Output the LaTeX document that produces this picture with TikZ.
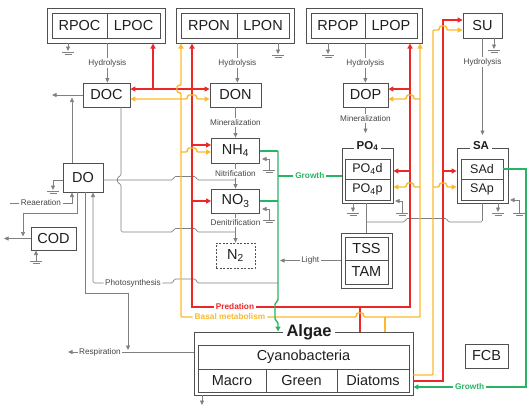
\documentclass[tikz,border=0pt]{standalone}
\usepackage{fontspec}
\setmainfont{Liberation Sans}
\usetikzlibrary{arrows.meta,calc}
\definecolor{cred}{RGB}{234,40,40}
\definecolor{cyel}{RGB}{250,186,45}
\definecolor{cgrn}{RGB}{40,180,100}
\definecolor{cgry}{RGB}{128,128,128}
\definecolor{cbox}{RGB}{80,80,80}
\definecolor{ctxt}{RGB}{30,30,30}
\definecolor{clbl}{RGB}{70,70,70}
\tikzset{
  box/.style={draw=cbox, line width=0.8pt, inner sep=0pt, text=ctxt, font=\fontsize{14.5}{17}\selectfont},
  sbox/.style={box, font=\fontsize{12.5}{15}\selectfont},
  ttl/.style={fill=white, inner xsep=3pt, inner ysep=1pt, text=ctxt, font=\bfseries\fontsize{11.5}{13}\selectfont},
  lbl/.style={fill=white, inner sep=1.5pt, text=clbl, font=\fontsize{8.2}{10}\selectfont},
  blbl/.style={fill=white, inner sep=2pt, font=\bfseries\fontsize{8.3}{10}\selectfont},
  gl/.style={draw=cgry, line width=0.65pt},
  rl/.style={draw=cred, line width=1.4pt},
  yl/.style={draw=cyel, line width=1.4pt},
  gr/.style={draw=cgrn, line width=1.4pt},
  arr/.style={-{Triangle[length=4.5pt,width=4pt]}},
  carr/.style={-{Triangle[length=5pt,width=5pt]}},
  carrs/.style={{Triangle[length=5pt,width=5pt]}-{Triangle[length=5pt,width=5pt]}},
  carrb/.style={{Triangle[length=5pt,width=5pt]}-},
  plate/.pic={\draw[gl] (-6,0) -- (6,0); \draw[gl,line width=0.4pt] (-3.5,2) -- (3.5,2);},
}
\begin{document}
\begin{tikzpicture}[x=1pt,y=-1pt]
\useasboundingbox (0,0) rectangle (530,408);
% ---- boxes
\node[box, minimum width=118pt, minimum height=35pt] (poc) at (106,25.5) {};
\node[box, minimum width=55pt, minimum height=25pt] (rpoc) at (79.5,25.5) {RPOC};
\node[box, minimum width=53pt, minimum height=25pt] (lpoc) at (133.5,25.5) {LPOC};
\node[box, minimum width=118pt, minimum height=35pt] (pon) at (235,25.5) {};
\node[box, minimum width=56pt, minimum height=25pt] (rpon) at (209,25.5) {RPON};
\node[box, minimum width=52pt, minimum height=25pt] (lpon) at (263,25.5) {LPON};
\node[box, minimum width=116pt, minimum height=35pt] (pop) at (364,25.5) {};
\node[box, minimum width=54pt, minimum height=25pt] (rpop) at (338,25.5) {RPOP};
\node[box, minimum width=52pt, minimum height=25pt] (lpop) at (391,25.5) {LPOP};
\node[box, minimum width=39pt, minimum height=25pt] (su) at (482.5,25.5) {SU};
\node[box, minimum width=47pt, minimum height=24pt] (doc) at (106.5,95) {DOC};
\node[box, minimum width=51pt, minimum height=24pt] (don) at (235.5,95) {DON};
\node[box, minimum width=45pt, minimum height=24pt] (dop) at (365.5,95) {DOP};
\node[box, minimum width=48pt, minimum height=25pt] (nh4) at (235.5,150.5) {NH\textsubscript{4}};
\node[box, minimum width=48pt, minimum height=24pt] (no3) at (235.5,201) {NO\textsubscript{3}};
\node[box, dash pattern=on 2pt off 1.5pt, minimum width=39pt, minimum height=25pt] (n2) at (235.5,255.5) {N\textsubscript{2}};
\node[box, minimum width=51pt, minimum height=55pt] (po4) at (367.5,175.5) {};
\node[sbox, minimum width=45pt, minimum height=20pt] (po4d) at (367.5,169) {PO\textsubscript{4}d};
\node[sbox, minimum width=45pt, minimum height=21pt] (po4p) at (367.5,189.5) {PO\textsubscript{4}p};
\node[box, minimum width=51pt, minimum height=55pt] (sa) at (482.5,175.5) {};
\node[sbox, minimum width=42pt, minimum height=20pt] (sad) at (482,169) {SAd};
\node[sbox, minimum width=42pt, minimum height=21pt] (sap) at (482,189.5) {SAp};
\node[box, minimum width=51pt, minimum height=55pt] (tt) at (366.5,260.5) {};
\node[box, minimum width=43pt, minimum height=23pt] (tss) at (366.5,248.5) {TSS};
\node[box, minimum width=43pt, minimum height=24pt] (tam) at (366.5,272) {TAM};
\node[box, minimum width=40pt, minimum height=29pt] (do) at (83,177.5) {DO};
\node[box, minimum width=45pt, minimum height=23pt] (cod) at (53.5,238.5) {COD};
\node[box, minimum width=43pt, minimum height=24pt] (fcb) at (486.5,356) {FCB};
\node[box, minimum width=219pt, minimum height=63pt] (alg) at (303.5,363.5) {};
\node[box, minimum width=211pt, minimum height=24pt] (cyan) at (303.5,357) {Cyanobacteria};
\node[box, minimum width=68pt, minimum height=23pt] (mac) at (232,380.5) {Macro};
\node[box, minimum width=71pt, minimum height=23pt] (grn) at (301.5,380.5) {Green};
\node[box, minimum width=72pt, minimum height=23pt] (dia) at (373,380.5) {Diatoms};

% ---- gray process lines
\draw[gl,arr] (rpoc.east |- poc.south) -- node[lbl]{Hydrolysis} (rpoc.east |- doc.north);
\draw[gl,arr] (rpon.east |- pon.south) -- node[lbl]{Hydrolysis} (rpon.east |- don.north);
\draw[gl,arr] (rpop.east |- pop.south) -- node[lbl]{Hydrolysis} (rpop.east |- dop.north);
\draw[gl,arr] (su.south) -- node[lbl,pos=0.245]{Hydrolysis} (su.south |- 0,135);
\draw[gl,arr] (don.south) -- node[lbl]{Mineralization} (nh4.north);
\draw[gl,arr] (dop.south) -- node[lbl,pos=0.42]{Mineralization} (dop.south |- 0,133);
\draw[gl,arr] (nh4.south) -- node[lbl,pos=0.4]{Nitrification} (no3.north);
\draw[gl,arr] (no3.south) -- node[lbl,pos=0.3]{Denitrification} (n2.north);

\draw[gl,rounded corners=1.5pt] (do.east |- 0,180) -- (173,180) -- (174,176.5) -- (196,176.5) -- (197,180) -- (235.5,180);
\draw[gl,rounded corners=1.5pt] (121,107) -- (121,176) -- (117.5,177) -- (117.5,183) -- (121,184) -- (121,232) -- (173,232) -- (174,228.5) -- (196,228.5) -- (197,232) -- (235.5,232);

\draw[gl,arr] (72,163) -- (72,97.5);
\draw[gl,arr] (doc.west) -- (52,95);
\draw[gl,arr] (do.west |- 0,180) -- (53,180) -- (53,190);
\pic at (53,191) {plate};
\draw[gl,arr] (10,203) -- node[lbl]{Reaeration} (72,203) -- (72,192.5);
\draw[gl,arr] (77,192) -- (77,213) -- (23,213) -- (23,236.5);
\draw[gl,arr] (cod.west) -- (4,238.5);
\draw[gl,arr] (36,261) -- (36,250.5);
\pic at (36,261) {plate};
\draw[gl,arr] (85,192) -- (85,293) -- (128,293) -- (128,350);
\draw[gl,arr] (alg.west |- 0,352) -- node[lbl,pos=0.746]{Respiration} (68,352);
\draw[gl,arr,rounded corners=1.5pt] (278,283) -- (197,283) -- (196,279) -- (174,279) -- (173,283) -- node[lbl]{Photosynthesis} (93,283) -- (93,192.5);
\draw[gl,arr] (tt.west) -- node[lbl]{Light} (280,260.5);
\draw[gl] (tt.north) -- (tt.north |- po4.south);
\draw[gl,rounded corners=1.5pt] (366.5,222) -- (405,222) -- (406,218.5) -- (447,218.5) -- (448,222) -- (482.5,222) -- (sa.south);
\draw[gl,arr] (alg.south -| 202,0) -- (202,405);

% ---- sinks / returns
\draw[gl,arr] (68,43) -- (68,51); \pic at (68,52) {plate};
\draw[gl,arr] (278,43) -- (278,54); \pic at (278,55) {plate};
\draw[gl,arr] (328,43) -- (328,54); \pic at (328,55) {plate};
\draw[gl,arr] (494,38) -- (494,49); \pic at (494,50) {plate};
\draw[gl,arr] (353,203) -- (353,212); \pic at (353,213) {plate};
\draw[gl,arr] (498,203) -- (498,212); \pic at (498,213) {plate};
\draw[gl,arr] (269,170) -- (269,159) -- (262,159); \pic at (269,170) {plate};
\draw[gl,arr] (269,220) -- (269,209) -- (262,209); \pic at (269,220) {plate};
\draw[gl,arr] (402,213) -- (402,201) -- (395,201); \pic at (402,213) {plate};
\draw[gl,arr] (519,213) -- (519,200) -- (510,200); \pic at (519,213) {plate};

% ---- red (predation)
\draw[rl,carrs] (192,43.5) -- (192,307) -- node[blbl,text=cred,pos=0.197]{Predation} (410,307) -- (410,43.5);
\draw[rl] (360,307) -- (360,332);
\draw[rl,carrs] (doc.east |- 0,89) -- (don.west |- 0,89);
\draw[rl,carr] (153,89) -- (153,43.5);
\draw[rl,carr] (192,145) -- (nh4.west |- 0,145);
\draw[rl,carr] (192,201) -- (no3.west |- 0,201);
\draw[rl,carr] (410,89) -- (dop.east |- 0,89);
\draw[rl,carr] (410,171) -- (po4.east |- 0,171);
\draw[rl,carr] (443,171) -- (sa.west |- 0,171);
\draw[rl,carrb] (su.west |- 0,20) -- (443,20) -- (443,381) -- (alg.east |- 0,381);

% ---- yellow (basal metabolism)
\draw[yl,carrs,rounded corners=1pt] (181,43.5) -- (181,85) -- (177,86) -- (177,92) -- (181,93) -- (181,317) -- node[blbl,text=cyel,pos=0.28]{Basal metabolism} (356,317) -- (357,313) -- (363,313) -- (364,317) -- (420,317) -- (420,43.5);
\draw[yl] (385,317) -- (385,332);
\draw[yl,carrs,rounded corners=1pt] (doc.east |- 0,99) -- (187,99) -- (188,95) -- (196,95) -- (197,99) -- (don.west |- 0,99);
\draw[yl,carr,rounded corners=1pt] (181,152) -- (187,152) -- (188,148) -- (196,148) -- (197,152) -- (nh4.west |- 0,152);
\draw[yl,carr,rounded corners=1pt] (420,99) -- (414,99) -- (413,95) -- (407,95) -- (406,99) -- (dop.east |- 0,99);
\draw[yl,carr,rounded corners=1pt] (420,187) -- (414,187) -- (413,183) -- (407,183) -- (406,187) -- (po4.east |- 0,187);
\draw[yl,carr,rounded corners=1pt] (433,187) -- (439,187) -- (440,183) -- (446,183) -- (447,187) -- (sa.west |- 0,187);
\draw[yl,carrb,rounded corners=1pt] (su.west |- 0,30) -- (447,30) -- (446,26) -- (440,26) -- (439,30) -- (433,30) -- (433,375) -- (alg.east |- 0,375);

% ---- green (growth)
\draw[gr] (nh4.east |- 0,151) -- (278,151);
\draw[gr] (no3.east |- 0,201) -- (278,201);
\draw[gr,carr,rounded corners=1.5pt] (278,151) -- (278,301) -- (275,303) -- (275,320) -- (278,322) -- (278,331.5);
\draw[gr] (po4.west |- 0,176) -- node[blbl,text=cgrn]{Growth} (278,176);
\draw[gr,carr] (sad.east) -- (sad.east -| 526,0) -- (526,387) -- node[blbl,text=cgrn]{Growth} (alg.east |- 0,387);

% ---- titles
\node[ttl] (po4t) at (367.5,146) {PO\textsubscript{4}};
\node[ttl] (sat) at (481,146) {SA};
\node[ttl, font=\bfseries\fontsize{16.5}{19}\selectfont, inner xsep=4pt] (algt) at (309,332) {Algae};
\end{tikzpicture}
\end{document}
